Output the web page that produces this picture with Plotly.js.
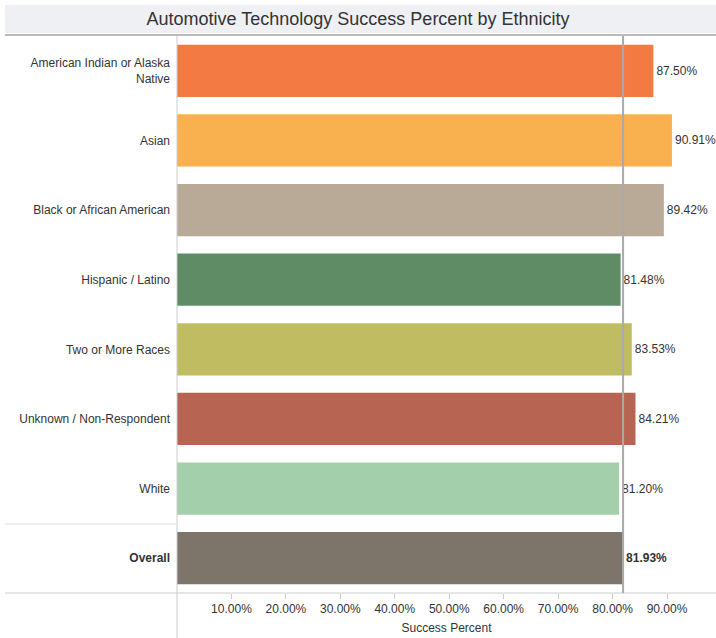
<!DOCTYPE html>
<html><head><meta charset="utf-8">
<script src="https://cdn.plot.ly/plotly-3.0.1.min.js"></script>
<style>html,body{margin:0;padding:0;background:#fff;}</style>
</head><body>
<div id="chart" style="width:716px;height:638px;"></div>
<script>
const categories = ["American Indian or Alaska<br>Native", "Asian", "Black or African American", "Hispanic / Latino", "Two or More Races", "Unknown / Non-Respondent", "White", "<b>Overall</b>"];
const successPercent = [87.50, 90.91, 89.42, 81.48, 83.53, 84.21, 81.20, 81.93];
const barColors = ["#f47a43", "#f9b04e", "#b9aa97", "#5f8b65", "#c0bc62", "#b86453", "#a3cfaa", "#7d746a"];
const overallValue = 81.93;
const tickValues = [10, 20, 30, 40, 50, 60, 70, 80, 90];

const W = 539, H = 557; // plot area size
const px = x => (x - 177) / W;
const py = y => (593 - y) / H;

const labels = successPercent.map((v, i) => i === successPercent.length - 1 ? "<b>" + v.toFixed(2) + "%</b>" : v.toFixed(2) + "%");

const trace = {
  type: "bar",
  orientation: "h",
  y: categories,
  x: successPercent,
  marker: {color: barColors},
  text: labels,
  textposition: "outside",
  textfont: {family: "Arial, Liberation Sans, sans-serif", size: 12, color: "#333"},
  cliponaxis: false,
  hoverinfo: "none"
};

const layout = {
  width: 716, height: 638,
  margin: {l: 177, r: 0, t: 36, b: 45, pad: 0},
  paper_bgcolor: "#fff", plot_bgcolor: "#fff",
  showlegend: false,
  bargap: 0.25,
  font: {family: "Arial, Liberation Sans, sans-serif", size: 12, color: "#333"},
  title: {text: "Automotive Technology Success Percent by Ethnicity", font: {size: 18, color: "#333"}, x: 0.5, xref: "container", xanchor: "center", y: 1 - 19 / 638, yref: "container", yanchor: "middle", pad: {t: 0, b: 0, l: 0, r: 0}},
  xaxis: {
    range: [0, 99.0], tickvals: tickValues, ticktext: tickValues.map(v => v.toFixed(2) + "%"),
    showgrid: false, zeroline: false, showline: false,
    ticks: "outside", ticklen: 5, tickcolor: "#ccc",
    tickfont: {size: 12, color: "#333"},
    title: {text: "Success Percent", font: {size: 12, color: "#333"}, standoff: 8},
    fixedrange: true
  },
  yaxis: {
    categoryorder: "array", categoryarray: categories, autorange: "reversed",
    showgrid: false, zeroline: false, showline: false, ticks: "",
    ticklabelstandoff: 6,
    tickfont: {size: 12, color: "#333"},
    fixedrange: true
  },
  shapes: [
    {type: "rect", xref: "paper", yref: "paper", x0: px(5), x1: 1, y0: py(33), y1: py(5), fillcolor: "#eef0f3", line: {width: 0}, layer: "below"},
    {type: "line", xref: "paper", yref: "paper", x0: px(5), x1: 1, y0: py(35), y1: py(35), line: {color: "#bbb", width: 2}},
    {type: "line", xref: "paper", yref: "paper", x0: 0, x1: 0, y0: py(638), y1: py(36), line: {color: "#ccc", width: 1}},
    {type: "line", xref: "paper", yref: "paper", x0: px(5), x1: 1, y0: py(593), y1: py(593), line: {color: "#ccc", width: 1}},
    {type: "line", xref: "paper", yref: "paper", x0: px(5), x1: 0, y0: py(524), y1: py(524), line: {color: "#ddd", width: 1}},
    {type: "line", xref: "x", yref: "paper", x0: overallValue, x1: overallValue, y0: 0, y1: 1, line: {color: "#aaa", width: 2}}
  ]
};

Plotly.newPlot("chart", [trace], layout, {displayModeBar: false, staticPlot: true});
</script>
</body></html>
